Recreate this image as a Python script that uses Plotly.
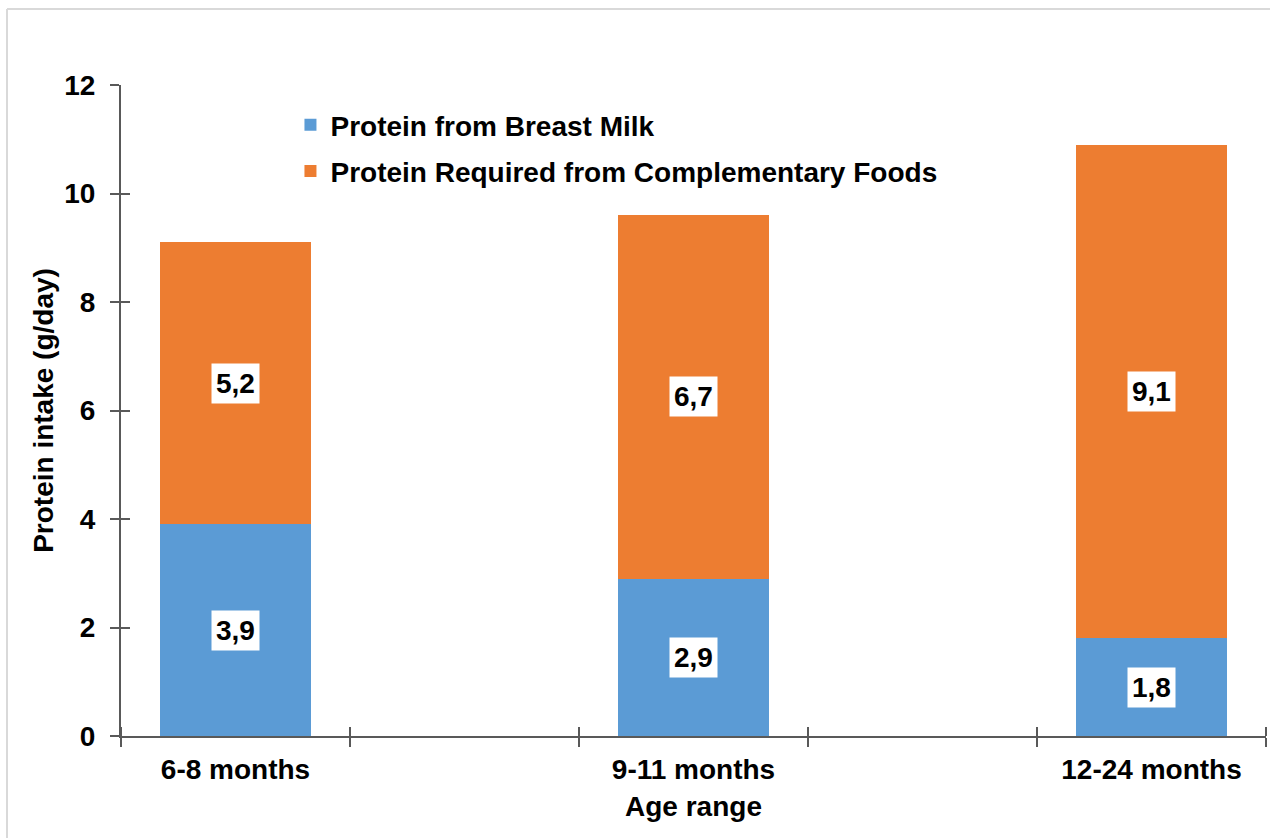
import plotly.graph_objects as go

# Age groups and protein intake (g/day)
age_groups = ["6-8 months", "9-11 months", "12-24 months"]
breast_milk = [3.9, 2.9, 1.8]
complementary = [5.2, 6.7, 9.1]
y_ticks = [0, 2, 4, 6, 8, 10, 12]

series_names = ["Protein from Breast Milk", "Protein Required from Complementary Foods"]
colors = ["#5B9BD5", "#ED7D31"]

# Groups sit on every other slot of a five-slot category axis
positions = [2 * i for i in range(len(age_groups))]
x_range = [-0.5, positions[-1] + 0.5]
boundaries = [p - 0.5 for p in range(positions[-1] + 2)]

FONT = "Arial, 'Liberation Sans', sans-serif"
AXIS_COLOR = "#595959"
FS = 28

fig = go.Figure()
for name, vals, col, grp in [
    (series_names[0], breast_milk, colors[0], "a"),
    (series_names[1], complementary, colors[1], "b"),
]:
    fig.add_trace(go.Bar(
        x=positions, y=vals, name="<b>" + name + "</b>", legendgroup=grp,
        marker=dict(color=col, line=dict(width=0)),
        width=0.66,
    ))

# Helper trace so the overlaid axes (used for crossing tick marks) are drawn
fig.add_trace(go.Scatter(x=[], y=[], xaxis="x2", yaxis="y2", showlegend=False,
                         hoverinfo="skip"))

# Value labels centered in each segment, on white boxes
annotations = []
for i, p in enumerate(positions):
    base = 0.0
    for vals in (breast_milk, complementary):
        v = vals[i]
        annotations.append(dict(
            x=p, y=base + v / 2, xref="x", yref="y",
            text="<b>" + f"{v:.1f}".replace(".", ",") + "</b>",
            showarrow=False, bgcolor="white", borderpad=4,
            font=dict(family=FONT, size=28, color="black"),
        ))
        base += v

fig.update_layout(
    width=1270, height=838,
    margin=dict(l=121, r=4, t=85, b=102),
    paper_bgcolor="white", plot_bgcolor="white",
    barmode="stack",
    font=dict(family=FONT, size=FS, color="black"),
    showlegend=True,
    legend=dict(
        x=0.148, y=0.977, xanchor="left", yanchor="top",
        traceorder="grouped", tracegroupgap=7,
        font=dict(family=FONT, size=FS, color="black"),
        bgcolor="rgba(0,0,0,0)", itemwidth=30,
    ),
    annotations=annotations,
    xaxis=dict(
        range=x_range, tickmode="array", tickvals=positions,
        ticktext=["<b>" + a + "</b>" for a in age_groups],
        tickfont=dict(size=FS),
        ticks="", showgrid=False, zeroline=False,
        showline=True, linecolor=AXIS_COLOR, linewidth=2,
        minor=dict(tickmode="array", tickvals=boundaries,
                   ticks="outside", ticklen=9, tickwidth=2, tickcolor=AXIS_COLOR),
        title=dict(text="<b>Age range</b>", standoff=13, font=dict(size=FS)),
        ticklabelstandoff=7,
    ),
    yaxis=dict(
        range=[0, 12], tickmode="array", tickvals=y_ticks,
        ticktext=["<b>%d</b>" % t for t in y_ticks],
        tickfont=dict(size=FS),
        ticks="outside", ticklen=9, tickwidth=2, tickcolor=AXIS_COLOR,
        showgrid=False, zeroline=False,
        showline=True, linecolor=AXIS_COLOR, linewidth=2,
        title=dict(text="<b>Protein intake (g/day)</b>", standoff=2,
                   font=dict(size=FS)),
        ticklabelstandoff=9,
    ),
    xaxis2=dict(
        overlaying="x", anchor="y2", range=x_range, showgrid=False,
        zeroline=False, showline=False, showticklabels=False,
        tickmode="array", tickvals=[],
        minor=dict(tickmode="array", tickvals=boundaries,
                   ticks="inside", ticklen=9, tickwidth=2, tickcolor=AXIS_COLOR),
    ),
    yaxis2=dict(
        overlaying="y", anchor="x2", side="left", range=[0, 12],
        tickmode="array", tickvals=y_ticks, ticks="inside", ticklen=9,
        tickwidth=2, tickcolor=AXIS_COLOR, showticklabels=False,
        showgrid=False, zeroline=False, showline=False,
    ),
    shapes=[
        dict(type="line", xref="paper", yref="paper",
             x0=(7 - 121) / 1145, x1=(1275 - 121) / 1145,
             y0=(736 - 9) / 651, y1=(736 - 9) / 651,
             line=dict(color="#D9D9D9", width=2)),
        dict(type="line", xref="paper", yref="paper",
             x0=(7 - 121) / 1145, x1=(7 - 121) / 1145,
             y0=(736 - 9) / 651, y1=(736 - 845) / 651,
             line=dict(color="#D9D9D9", width=2)),
    ],
)

fig.write_html("out.html")
